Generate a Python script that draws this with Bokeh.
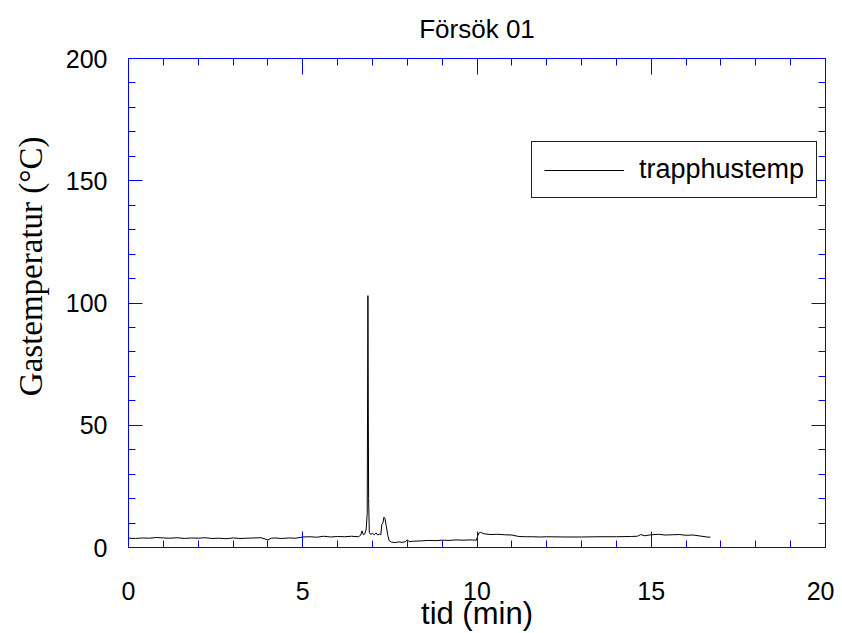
from bokeh.plotting import figure
from bokeh.models import (Range1d, SingleIntervalTicker, LinearAxis, Legend,
                          LegendItem, Title, ColumnDataSource, CustomLabelingPolicy)
from bokeh.embed import file_html
from bokeh.resources import INLINE

# ---- data ----
time_min = [0.0, 0.2, 0.4, 0.6, 0.8, 1.0, 1.2, 1.4, 1.6, 1.8, 2.0, 2.2, 2.4, 2.6,
            2.8, 3.0, 3.2, 3.4, 3.6, 3.8, 4.0, 4.1, 4.2, 4.4, 4.6, 4.8, 5.0, 5.2,
            5.4, 5.6, 5.8, 6.0, 6.2, 6.4, 6.6, 6.66, 6.70, 6.74, 6.78, 6.82, 6.85,
            6.87, 6.89, 6.91, 6.95, 7.00, 7.05, 7.10, 7.15, 7.20, 7.24, 7.27, 7.30,
            7.33, 7.36, 7.40, 7.44, 7.48, 7.55, 7.65, 7.75, 7.85, 7.95, 8.0, 8.05,
            8.2, 8.4, 8.6, 8.8, 9.0, 9.2, 9.4, 9.6, 9.8, 9.98, 10.05, 10.1, 10.2,
            10.4, 10.6, 10.8, 11.0, 11.2, 11.4, 11.6, 11.8, 12.0, 12.5, 13.0, 13.5,
            14.0, 14.4, 14.6, 14.7, 14.8, 15.0, 15.2, 15.4, 15.6, 15.8, 16.0, 16.2,
            16.4, 16.6, 16.7]
trapphustemp = [3.8, 3.7, 3.9, 3.8, 4.1, 3.9, 3.8, 4.0, 3.7, 3.9, 3.8, 4.0, 3.7, 3.8,
                3.6, 3.9, 3.7, 3.8, 3.9, 4.0, 3.1, 3.8, 3.9, 3.7, 3.9, 3.8, 4.3, 4.4,
                4.2, 4.6, 4.3, 4.5, 4.4, 4.6, 4.4, 5.0, 6.8, 5.2, 5.6, 7.5, 14.0,
                103.0, 20.0, 6.2, 5.3, 5.8, 5.2, 6.0, 5.1, 5.5, 5.2, 9.5, 10.0,
                12.4, 11.8, 8.5, 5.0, 2.8, 2.2, 2.0, 2.3, 2.1, 2.4, 3.2, 2.4,
                2.6, 2.7, 2.9, 2.8, 3.0, 2.9, 3.1, 3.0, 3.1, 3.0, 5.9, 6.2, 5.6,
                5.3, 5.4, 5.2, 5.1, 4.5, 4.4, 4.4, 4.3, 4.4, 4.3, 4.3, 4.4,
                4.4, 4.5, 4.6, 5.3, 4.8, 5.2, 5.4, 5.1, 5.2, 5.3, 5.0, 5.1,
                4.7, 4.3, 4.2]

chart_title = "Försök 01"
x_title = "tid (min)"
y_title = "Gastemperatur (°C)"
series_name = "trapphustemp"

BLUE = "#0000ff"
SANS = "Liberation Sans"

p = figure(width=834, height=633, x_range=Range1d(0, 20), y_range=Range1d(0, 200),
           output_backend="svg", toolbar_location=None,
           min_border_left=128, min_border_right=9, min_border_top=58,
           min_border_bottom=86)
p.outline_line_color = None
p.xgrid.visible = False
p.ygrid.visible = False

p.title.text = chart_title
p.title.align = "center"
p.title.vertical_align = "top"
p.title.text_font = SANS
p.title.text_font_style = "normal"
p.title.text_font_size = "26px"
p.title.text_color = "#000000"
p.title.standoff = 25


def style_axis(ax, major_len, labels=True):
    ax.axis_line_color = BLUE
    ax.axis_line_width = 1
    ax.major_tick_line_color = BLUE
    ax.minor_tick_line_color = BLUE
    ax.major_tick_in = major_len
    ax.major_tick_out = 0
    ax.minor_tick_in = 7
    ax.minor_tick_out = 0
    if not labels:
        ax.major_label_policy = CustomLabelingPolicy(
            code="for (const i of indices) indices.unset(i)")
        ax.major_label_text_font_size = "0px"
        ax.major_label_standoff = 0


xa = p.xaxis[0]
xa.ticker = SingleIntervalTicker(interval=5, num_minor_ticks=5)
style_axis(xa, 16)
xa.major_label_text_font = SANS
xa.major_label_text_font_size = "25px"
xa.major_label_text_color = "#000000"
xa.major_label_standoff = 34
xa.axis_label = x_title
xa.axis_label_text_font = SANS
xa.axis_label_text_font_style = "normal"
xa.axis_label_text_font_size = "31px"
xa.axis_label_text_color = "#000000"
xa.axis_label_standoff = -7

ya = p.yaxis[0]
ya.ticker = SingleIntervalTicker(interval=50, num_minor_ticks=5)
style_axis(ya, 14)
ya.major_label_text_font = SANS
ya.major_label_text_font_size = "25px"
ya.major_label_text_color = "#000000"
ya.major_label_standoff = 21

top = LinearAxis(ticker=SingleIntervalTicker(interval=5, num_minor_ticks=5))
style_axis(top, 16, labels=False)
p.add_layout(top, "above")
right = LinearAxis(ticker=SingleIntervalTicker(interval=50, num_minor_ticks=5))
style_axis(right, 14, labels=False)
p.add_layout(right, "right")

ytitle = Title(text=y_title, align="right", offset=78, standoff=23,
               vertical_align="top",
               text_font="Liberation Serif", text_font_style="normal",
               text_font_size="33px", text_color="#000000")
p.add_layout(ytitle, "left")

src = ColumnDataSource(dict(t=time_min, temp=trapphustemp))
r = p.line("t", "temp", source=src, line_color="#000000", line_width=1)

legend = Legend(items=[LegendItem(label=series_name, renderers=[r])],
                location=(403, 349))
legend.border_line_color = "#222222"
legend.border_line_alpha = 1.0
legend.border_line_width = 1
legend.padding = 12
legend.spacing = 0
legend.margin = 0
legend.glyph_width = 80
legend.label_standoff = 15
legend.label_text_font = SANS
legend.label_text_font_size = "27px"
legend.label_text_color = "#000000"
legend.background_fill_color = "#ffffff"
legend.background_fill_alpha = 1
p.add_layout(legend)

open("out.html", "w").write(file_html(p, INLINE))
